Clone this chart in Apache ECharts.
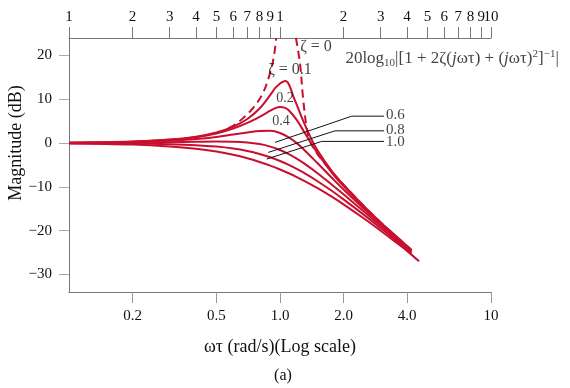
<!DOCTYPE html>
<html><head><meta charset="utf-8">
<script src="https://cdn.jsdelivr.net/npm/echarts@6/dist/echarts.min.js"></script>
<style>html,body{margin:0;padding:0;background:#fff}#c{width:570px;height:388px}</style>
</head><body><div id="c"></div>
<script>
// ---- data ----
const zeta0LeftW  = [0.57,0.62,0.668,0.745,0.83,0.897,0.935,0.96];
const zeta0LeftDb = [3.4,4.4,5.7,8.0,11.4,16.0,19.8,24];
const zeta0RightW  = [1.19,1.244,1.285,1.343,1.40,1.5,1.75,2.0,2.5,3.0,3.5,4.0,4.2];
const zeta0RightDb = [24,18.2,10.5,3.0,0,-2.4,-6.4,-9.5,-14.4,-18.1,-21.0,-23.5,-24.4];

const zeta01W  = [0.1,0.2,0.3,0.4,0.5,0.6,0.7,0.8,0.9,0.95,1.0,1.03,1.06,1.09,1.12,1.16,1.2,1.3,1.4,1.5,1.75,2.0,2.5,3.0,3.5,4.0,4.2];
const zeta01Db = [0.09,0.35,0.8,1.48,2.42,3.73,5.5,7.9,11.0,12.6,13.6,14.0,14.2,13.8,12.6,10.5,8.8,4.6,1.2,-1.5,-6.2,-9.5,-14.4,-18.1,-21.0,-23.5,-24.4];

const zeta02W  = [0.1,0.2,0.3,0.4,0.5,0.6,0.7,0.8,0.9,0.95,1.0,1.05,1.1,1.2,1.3,1.4,1.5,1.75,2.0,2.5,3.0,3.5,4.0,4.2];
const zeta02Db = [0.08,0.32,0.74,1.36,2.2,3.3,4.6,6.0,7.4,8.0,8.25,8.1,7.5,5.3,2.6,0.1,-2.2,-6.6,-9.8,-14.6,-18.2,-21.1,-23.6,-24.5];

const zeta04W  = [0.1,0.2,0.3,0.4,0.5,0.6,0.7,0.8,0.9,1.0,1.1,1.2,1.3,1.5,1.75,2.0,2.5,3.0,3.5,4.0,4.2];
const zeta04Db = [0.06,0.24,0.53,0.93,1.41,1.94,2.4,2.75,2.8,2.3,1.3,0.0,-1.5,-4.5,-7.8,-10.6,-15.0,-18.4,-21.3,-23.7,-24.6];

const zeta06W  = [0.1,0.2,0.3,0.4,0.5,0.6,0.7,0.8,0.9,1.0,1.1,1.2,1.3,1.5,1.75,2.0,2.5,3.0,3.5,4.0,4.2];
const zeta06Db = [0.02,0.09,0.19,0.29,0.35,0.32,0.15,-0.22,-0.8,-1.58,-2.52,-3.55,-4.64,-6.81,-9.38,-11.69,-15.63,-18.86,-21.59,-23.95,-24.8];

const zeta08W  = [0.1,0.2,0.3,0.4,0.5,0.6,0.7,0.8,0.9,1.0,1.1,1.2,1.3,1.5,1.75,2.0,2.5,3.0,3.5,4.0,4.2];
const zeta08Db = [-0.02,-0.1,-0.25,-0.47,-0.8,-1.24,-1.8,-2.47,-3.24,-4.08,-4.97,-5.89,-6.81,-8.65,-10.83,-12.84,-16.39,-19.4,-21.98,-24.25,-25.08];

const zeta10W  = [0.1,0.2,0.3,0.4,0.5,0.6,0.7,0.8,0.9,1.0,1.1,1.2,1.3,1.5,1.75,2.0,2.5,3.0,3.5,4.0,4.56];
const zeta10Db = [-0.09,-0.34,-0.75,-1.29,-1.94,-2.67,-3.46,-4.3,-5.15,-6.02,-6.89,-7.75,-8.6,-10.24,-12.18,-13.98,-17.21,-20.0,-22.44,-24.61,-27.0];

// leader lines (omega, dB) for the 0.6 / 0.8 / 1.0 labels
const lead06W = [3.11,2.187,0.947], lead06Db = [6.15,6.15,0.16];
const lead08W = [3.11,1.823,0.880], lead08Db = [2.8,2.8,-2.12];
const lead10W = [3.11,1.576,0.865], lead10Db = [0.39,0.39,-3.64];

// annotation texts anchored in data space
const centerLabelText = ['ζ = 0','ζ = 0.1','0.2','0.4'];
const centerLabelW    = [1.481,1.115,1.056,1.011];
const centerLabelDb   = [21.9,16.7,10.3,5.0];
const sideLabelText = ['0.6','0.8','1.0'];
const sideLabelW    = [3.16,3.16,3.16];
const sideLabelDb   = [6.4,3.0,0.25];
const formulaW = 2.03, formulaDb = 19.4;

// axes
const bottomTicks = [0.2,0.5,1,2,4,10];
const bottomTickLabels = ['0.2','0.5','1.0','2.0','4.0','10'];
// 9.999 duplicates the "10" label so that the last-label overlap rule hides it instead of "9"
const topTicks = [0.1,0.2,0.3,0.4,0.5,0.6,0.7,0.8,0.9,1,2,3,4,5,6,7,8,9,9.999,10];
const topTickLabels = ['1','2','3','4','5','6','7','8','9','1','2','3','4','5','6','7','8','9','10','10'];
const yTicks = [-30,-20,-10,0,10,20];
const yTickLabels = ['\u221230','\u221220','\u221210','0','10','20'];

const FONT = 'Liberation Serif';
const RED = '#c8102e';
const TXT = '#111';

function zip(w, d){ return w.map((v,i)=>[v,d[i]]); }
function lookup(vals, labels){
  return function(v){
    let best=0, bd=Infinity;
    vals.forEach((t,i)=>{ const dd=Math.abs(Math.log(t)-Math.log(v)); if(dd<bd){bd=dd;best=i;} });
    return labels[best];
  };
}
function curve(name, w, d, dashed){
  return {type:'line', name, data:zip(w,d), showSymbol:false, symbol:'none', smooth:0.35,
    lineStyle:{color:RED, width:2, type: dashed ? [8,5] : 'solid'}, z:3, silent:true};
}
function lead(w, d){
  return {type:'line', data:zip(w,d), showSymbol:false, symbol:'none', smooth:false,
    lineStyle:{color:'#111', width:1}, z:4, silent:true};
}

const chart = echarts.init(document.getElementById('c'), null, {renderer:'canvas'});
chart.setOption({
  animation:false,
  backgroundColor:'#fff',
  grid:{left:69,right:79,top:38,bottom:96,containLabel:false},
  xAxis:[
    {type:'log', logBase:10, min:0.1, max:10, position:'bottom',
     axisLine:{show:true, onZero:false, lineStyle:{color:'#777', width:1}},
     axisTick:{show:true, customValues:bottomTicks, length:11, lineStyle:{color:'#999'}},
     minorTick:{show:false}, splitLine:{show:false},
     axisLabel:{customValues:bottomTicks, formatter:lookup(bottomTicks,bottomTickLabels), margin:17,
       hideOverlap:false, fontFamily:FONT, fontSize:15, color:TXT},
     name:'ωτ (rad/s)(Log scale)', nameLocation:'middle', nameGap:46,
     nameTextStyle:{fontFamily:FONT, fontSize:18, color:TXT}},
    {type:'log', logBase:10, min:0.1, max:10, position:'top',
     axisLine:{show:true, onZero:false, lineStyle:{color:'#777', width:1}},
     axisTick:{show:true, customValues:topTicks, length:11, lineStyle:{color:'#777'}},
     minorTick:{show:false}, splitLine:{show:false},
     axisLabel:{customValues:topTicks, formatter:lookup(topTicks,topTickLabels), margin:13,
       hideOverlap:false, showMinLabel:true, showMaxLabel:true, fontFamily:FONT, fontSize:15, color:TXT}}
  ],
  yAxis:{type:'value', min:-34, max:24,
    axisLine:{show:true, onZero:false, lineStyle:{color:'#777', width:1}},
    axisTick:{show:true, customValues:yTicks, length:10, lineStyle:{color:'#aaa'}},
    splitLine:{show:false},
    axisLabel:{customValues:yTicks, formatter:function(v){ return yTickLabels[yTicks.indexOf(Math.round(v))]; },
      margin:17, fontFamily:FONT, fontSize:15, color:TXT}},
  series:[
    curve('ζ=1.0', zeta10W, zeta10Db),
    curve('ζ=0.8', zeta08W, zeta08Db),
    curve('ζ=0.6', zeta06W, zeta06Db),
    curve('ζ=0.4', zeta04W, zeta04Db),
    curve('ζ=0.2', zeta02W, zeta02Db),
    curve('ζ=0.1', zeta01W, zeta01Db),
    curve('ζ=0 a', zeta0LeftW, zeta0LeftDb, true),
    curve('ζ=0 b', zeta0RightW, zeta0RightDb, true),
    lead(lead06W, lead06Db), lead(lead08W, lead08Db), lead(lead10W, lead10Db),
    {type:'scatter', symbolSize:1, itemStyle:{color:'rgba(0,0,0,0)'}, z:5, silent:true,
     data: centerLabelText.map((t,i)=>({value:[centerLabelW[i],centerLabelDb[i]], name:t,
       label:{show:true, position:'inside', formatter:t, fontFamily:FONT,
              fontSize: i<2 ? 16 : 14, color:TXT}}))},
    {type:'scatter', symbolSize:1, itemStyle:{color:'rgba(0,0,0,0)'}, z:5, silent:true,
     data: sideLabelText.map((t,i)=>({value:[sideLabelW[i],sideLabelDb[i]], name:t,
       label:{show:true, position:'right', distance:0, formatter:t, fontFamily:FONT, fontSize:15, color:TXT}}))},
    {type:'scatter', symbolSize:1, itemStyle:{color:'rgba(0,0,0,0)'}, z:5, silent:true,
     data:[{value:[formulaW, formulaDb], label:{show:true, position:'right', distance:0,
       formatter:'{n|20log}{s|10}{n||[1 + 2ζ(}{i|j}{n|ωτ) + (}{i|j}{n|ωτ)}{p|2}{n|]}{p|\u22121}{n||}',
       rich:{
         n:{fontFamily:FONT, fontSize:17, color:TXT, lineHeight:20},
         i:{fontFamily:FONT, fontSize:17, fontStyle:'italic', color:TXT, lineHeight:20},
         s:{fontFamily:FONT, fontSize:11, color:TXT, verticalAlign:'bottom', lineHeight:12, padding:[8,0,0,0]},
         p:{fontFamily:FONT, fontSize:11, color:TXT, verticalAlign:'top', lineHeight:12, padding:[0,0,8,0]}
       }}}]}
  ],
  graphic:[
    {type:'text', x:16, y:143, rotation:Math.PI/2,
     style:{text:'Magnitude (dB)', fontFamily:FONT, fontSize:18, fill:TXT, align:'center', verticalAlign:'middle'}},
    {type:'text', x:283, y:376,
     style:{text:'(a)', fontFamily:FONT, fontSize:16, fill:TXT, align:'center', verticalAlign:'middle'}}
  ]
});
</script></body></html>
